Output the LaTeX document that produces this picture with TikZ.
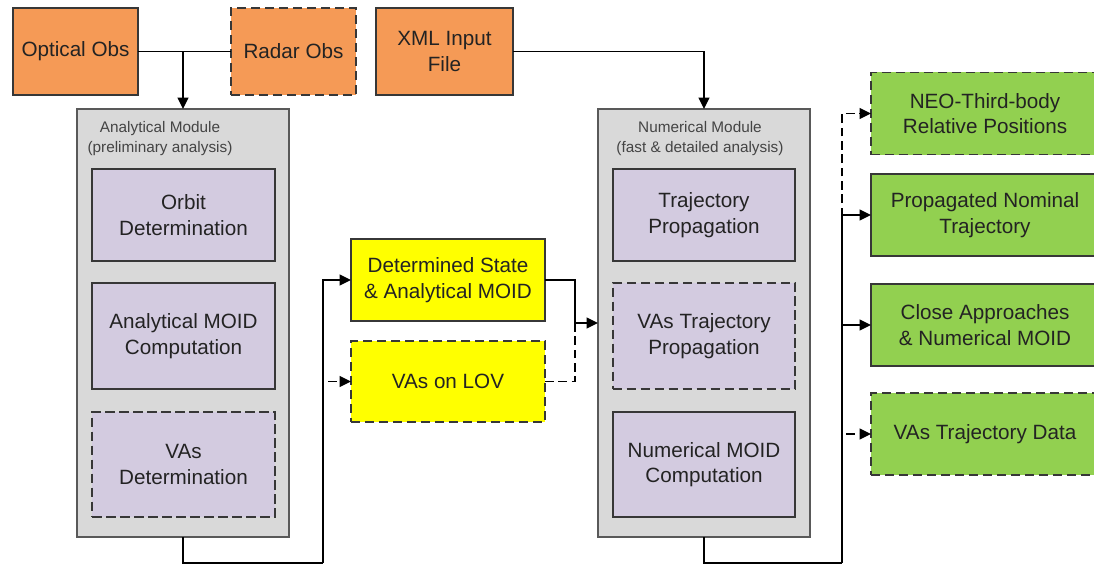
\documentclass[tikz,border=0pt]{standalone}
\usepackage{fontspec}
\setmainfont{Liberation Sans}
\usetikzlibrary{arrows.meta}

\definecolor{obsorange}{RGB}{245,154,86}
\definecolor{modgray}{RGB}{217,217,217}
\definecolor{sublilac}{RGB}{211,203,224}
\definecolor{resyellow}{RGB}{255,255,0}
\definecolor{outgreen}{RGB}{146,208,80}
\definecolor{edgedark}{RGB}{55,55,55}
\definecolor{txtdark}{RGB}{35,35,35}

\tikzset{
  box/.style={draw=edgedark, line width=1.4pt, inner sep=0pt, outer sep=0pt,
    align=center, text=txtdark, font=\fontsize{15.5}{19}\selectfont},
  dashedbox/.style={dash pattern=on 7pt off 3.5pt},
  obsbox/.style={box, fill=obsorange, minimum height=65.25pt},
  modbox/.style={box, fill=modgray, draw=black!65, line width=1.2pt, minimum width=159pt, minimum height=321pt},
  subbox/.style={box, fill=sublilac, minimum width=137pt},
  resbox/.style={box, fill=resyellow, minimum width=145.5pt},
  outbox/.style={box, fill=outgreen, minimum width=171pt, minimum height=61.5pt},
  modlabel/.style={align=center, text=txtdark!85, inner sep=0pt,
    font=\fontsize{11.5}{15}\selectfont},
  link/.style={draw=black, line width=1.2pt},
  arrowlink/.style={link, -{Triangle[length=8.5pt,width=8pt]}},
  dashlink/.style={link, dash pattern=on 6.5pt off 3.5pt}
}

\begin{document}
\begin{tikzpicture}[x=0.75pt, y=-0.75pt]
  \useasboundingbox (0,0) rectangle (1094,567);

  % input data
  \node[obsbox, minimum width=93.75pt] (optical) at (75.5,51.5) {Optical Obs};
  \node[obsbox, dashedbox, minimum width=93.75pt] (radar) at (293.5,51.5) {Radar Obs};
  \node[obsbox, minimum width=102.75pt] (xml) at (444.5,51.5) {XML Input\\File};

  % analytical module
  \node[modbox] (analytical) at (183,323) {};
  \node[modlabel] (analabel) at (160,139) {Analytical Module\\(preliminary analysis)};
  \node[subbox, minimum height=69pt] (orbitdet) at (183.5,215) {Orbit\\Determination};
  \node[subbox, minimum height=79.5pt] (anamoid) at (183.5,336) {Analytical MOID\\Computation};
  \node[subbox, dashedbox, minimum height=78.75pt] (vasdet) at (183.5,464.5) {VAs\\Determination};

  % intermediate results
  \node[resbox, minimum height=61.5pt] (detstate) at (448,280) {Determined State\\\& Analytical MOID};
  \node[resbox, dashedbox, minimum height=60.75pt] (vaslov) at (448,381.5) {VAs on LOV};

  % numerical module
  \node[modbox] (numerical) at (704,323) {};
  \node[modlabel] (numlabel) at (700,139) {Numerical Module\\(fast \& detailed analysis)};
  \node[subbox, minimum height=69pt] (trajprop) at (704,215) {Trajectory\\Propagation};
  \node[subbox, dashedbox, minimum height=79.5pt] (vastrajprop) at (704,336) {VAs Trajectory\\Propagation};
  \node[subbox, minimum height=78.75pt] (nummoid) at (704,464.5) {Numerical MOID\\Computation};

  % outputs
  \node[outbox, dashedbox] (neo) at (985,113.5) {NEO-Third-body\\Relative Positions};
  \node[outbox] (propnom) at (985,215) {Propagated Nominal\\Trajectory};
  \node[outbox] (closeapp) at (985,325) {Close Approaches\\\& Numerical MOID};
  \node[outbox, dashedbox] (vasdata) at (985,434) {VAs Trajectory Data};

  % routing points
  \coordinate (obsjoin) at (183,51.5);
  \coordinate (anaout) at (323,563);
  \coordinate (resjoin) at (575,323);
  \coordinate (numout) at (842,563);

  % observations into the analytical module
  \draw[link] (optical.east) -- (radar.west);
  \draw[arrowlink] (obsjoin) -- (analytical.north);
  \draw[arrowlink] (xml.east) -| (numerical.north);

  % analytical module to its results
  \draw[dashlink, -{Triangle[length=8.5pt,width=8pt]}] (anaout) |- (vaslov.west);
  \draw[link] (analytical.south) |- (anaout);
  \draw[arrowlink] (anaout) |- (detstate.west);

  % results into the numerical module
  \draw[dashlink] (vaslov.east) -| (resjoin);
  \draw[link] (detstate.east) -| (resjoin);
  \draw[arrowlink] (resjoin) -- (numerical.west);

  % numerical module to the outputs
  \draw[dashlink, -{Triangle[length=8.5pt,width=8pt]}] (numout) |- (neo.west);
  \draw[dashlink, -{Triangle[length=8.5pt,width=8pt]}] (numout) |- (vasdata.west);
  \draw[link] (numerical.south) |- (numout);
  \draw[arrowlink] (numout) |- (propnom.west);
  \draw[arrowlink] (numout) |- (closeapp.west);
\end{tikzpicture}
\end{document}
